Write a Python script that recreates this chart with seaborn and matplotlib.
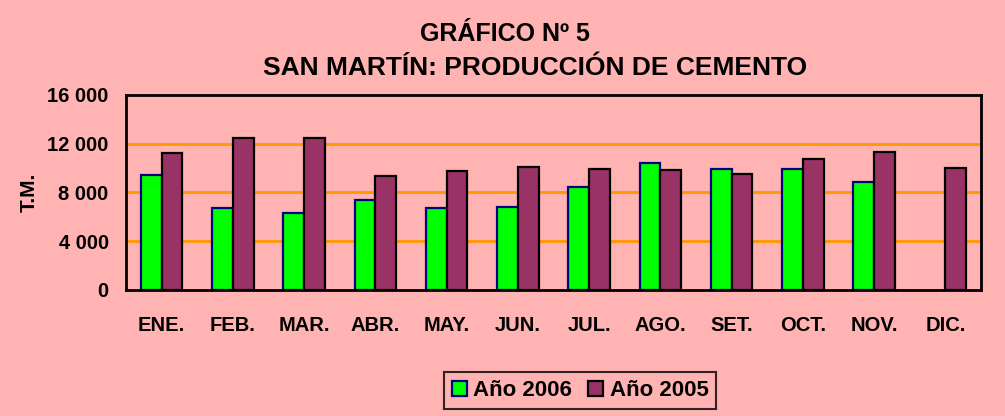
import matplotlib
matplotlib.use("Agg")
import matplotlib.pyplot as plt
import seaborn as sns
import pandas as pd
import numpy as np
from matplotlib.ticker import FixedLocator, FuncFormatter
from matplotlib.patches import Patch

months = ["ENE.", "FEB.", "MAR.", "ABR.", "MAY.", "JUN.", "JUL.", "AGO.", "SET.", "OCT.", "NOV.", "DIC."]
values_2006 = [9420, 6740, 6280, 7350, 6740, 6800, 8430, 10370, 9950, 9930, 8840, np.nan]
values_2005 = [11200, 12450, 12450, 9370, 9780, 10070, 9930, 9820, 9470, 10750, 11270, 10010]
series = ["Año 2006", "Año 2005"]
y_ticks = [0, 4000, 8000, 12000, 16000]

df = pd.DataFrame({
    "Mes": months * 2,
    "Serie": [series[0]] * len(months) + [series[1]] * len(months),
    "TM": values_2006 + values_2005,
})

sns.set_theme(style="white")
plt.rcParams["font.family"] = ["Liberation Sans", "DejaVu Sans"]
plt.rcParams["font.weight"] = "bold"
for k in ["text.color", "axes.labelcolor", "xtick.color", "ytick.color"]:
    plt.rcParams[k] = "black"

bg = "#FFB3B3"
fill_colors = {"Año 2006": "#00FF00", "Año 2005": "#993366"}
edge_colors = {"Año 2006": "#000080", "Año 2005": "#000000"}

fig = plt.figure(figsize=(10.05, 4.16), dpi=100, facecolor=bg)
ax = fig.add_axes([0.1254, 0.3029, 0.8507, 0.4695])
ax.set_facecolor(bg)

sns.barplot(data=df, x="Mes", y="TM", hue="Serie", order=months, hue_order=series,
            palette=fill_colors, width=0.58, ax=ax, legend=False, errorbar=None,
            saturation=1)

for cont, s in zip(ax.containers, series):
    for p in cont:
        p.set_edgecolor(edge_colors[s])
        p.set_linewidth(1.6)

ax.set_ylim(0, 16000)
ax.set_xlim(-0.5, len(months) - 0.5)
ax.yaxis.set_major_locator(FixedLocator(y_ticks))
ax.yaxis.set_major_formatter(FuncFormatter(lambda v, p: f"{int(v):,}".replace(",", " ")))
for yv in y_ticks[1:-1]:
    ax.axhline(yv, color="#FF9900", lw=2, zorder=0)

ax.set_xticks(range(len(months)))
ax.set_xticklabels(months, fontsize=14.5, fontweight="bold")
ax.tick_params(axis="x", which="major", length=0, pad=19)
ax.set_xticks(np.arange(-0.5, len(months)), minor=True)
ax.tick_params(axis="x", which="minor", length=6, width=2, color="black", direction="out")
ax.tick_params(axis="y", which="major", length=6.5, width=2, color="black", direction="out",
               labelsize=14.5, pad=6)
for lbl in ax.get_yticklabels():
    lbl.set_fontweight("bold")

ax.set_xlabel("")
ax.set_ylabel("T.M.", fontsize=15, fontweight="bold", labelpad=6)
for sp in ax.spines.values():
    sp.set_color("black")
    sp.set_linewidth(2)
    sp.set_visible(True)

fig.text(505 / 1005, 1 - 34 / 416, "GRÁFICO Nº 5", ha="center", va="center", fontsize=18, fontweight="bold")
fig.text(535 / 1005, 1 - 68 / 416, "SAN MARTÍN: PRODUCCIÓN DE CEMENTO", ha="center", va="center",
         fontsize=19, fontweight="bold")

handles = [Patch(facecolor=fill_colors[s], edgecolor=edge_colors[s], linewidth=1.6, label=s) for s in series]
leg = fig.legend(handles=handles, loc="center", bbox_to_anchor=(580 / 1005, 1 - 390.5 / 416), ncol=2,
                 frameon=True, fancybox=False, edgecolor="black", facecolor=bg,
                 prop={"size": 16, "weight": "bold"}, handlelength=0.68, handleheight=0.68,
                 handletextpad=0.3, columnspacing=0.7, borderpad=0.35, borderaxespad=0)
leg.get_frame().set_linewidth(1.5)

fig.savefig("out.png", dpi=100, facecolor=bg)
